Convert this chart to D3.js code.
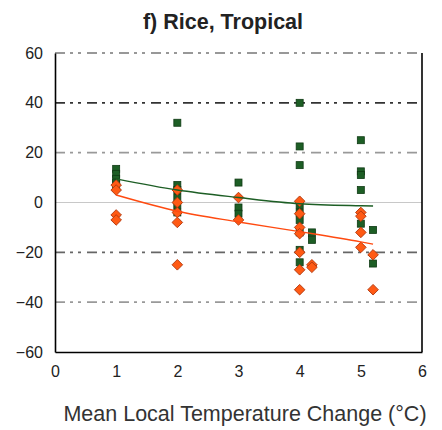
<!DOCTYPE html>
<html>
<head>
<meta charset="utf-8">
<script src="https://cdn.jsdelivr.net/npm/d3@7"></script>
<style>
html,body{margin:0;padding:0;background:#fff;}
svg{display:block;font-family:"Liberation Sans",Arial,sans-serif;}
</style>
</head>
<body>
<svg id="chart" width="442" height="430"></svg>
<script>
const title = "f) Rice, Tropical";
const xTitle = "Mean Local Temperature Change (°C)";
const xTicks = [0, 1, 2, 3, 4, 5, 6];
const yTicks = [-60, -40, -20, 0, 20, 40, 60];

// Green squares
const greenX = [1,1,1,1,1, 2,2,2,2,2,2, 3,3,3, 4,4,4,4,4,4,4,4,4, 4.2,4.2, 5,5,5,5,5, 5.2,5.2];
const greenY = [13.5,11.5,9.5,8,6, 32,7,5,2,-1,-4, 8,-2,-4.5, 40,22.5,15,-1,-4,-7,-12,-19,-24, -12,-15, 25,12.5,11,5,-8.5, -11,-24.5];
// Orange diamonds
const orangeX = [1,1,1,1, 2,2,2,2,2, 3,3, 4,4,4,4,4,4,4, 4.2,4.2, 5,5,5,5, 5.2,5.2];
const orangeY = [7,5,-5,-7, 5,0,-4,-8,-25, 2,-7, 0.5,-4.5,-10,-12.5,-20,-27,-35, -25,-26, -4,-5.5,-12,-18, -21,-35];
// Trend lines
const greenFitX = [1, 2, 3, 4, 5, 5.2];
const greenFitY = [9.5, 5, 2, -0.5, -1.3, -1.4];
const orangeFitX = [1, 2, 3, 4, 5, 5.2];
const orangeFitY = [3, -3.5, -7.8, -11.7, -15.8, -16.7];

const svg = d3.select("#chart");
const x = d3.scaleLinear().domain([0, 6]).range([55, 422]);
const y = d3.scaleLinear().domain([-60, 60]).range([352, 53]);

// gridlines
const gridColor = {"60":"#777","40":"#333","20":"#999","-20":"#666","-40":"#999"};
svg.append("g").selectAll("line").data(yTicks.filter(d => d !== 0 && d !== -60)).join("line")
  .attr("x1", x(0)).attr("x2", x(6))
  .attr("y1", d => y(d)).attr("y2", d => y(d))
  .attr("stroke", d => gridColor[d]).attr("stroke-width", 1.6)
  .attr("stroke-dasharray", "10,5,3,5,3,6");

// zero line
svg.append("line").attr("x1", x(0)).attr("x2", x(6)).attr("y1", y(0)).attr("y2", y(0))
  .attr("stroke", "#c8c8c8").attr("stroke-width", 1.2);

// axes
const yAxis = d3.axisLeft(y).tickValues(yTicks).tickSize(0).tickPadding(12).tickFormat(d3.format("d"));
const gy = svg.append("g").attr("transform", `translate(${x(0)},0)`).call(yAxis);
gy.select(".domain").attr("stroke", "#000").attr("stroke-width", 1.6);
gy.selectAll("text").attr("font-size", 16).attr("fill", "#222").attr("font-family", "Liberation Sans, Arial, sans-serif");

const xAxis = d3.axisBottom(x).tickValues(xTicks).tickSize(0).tickPadding(14).tickFormat(d3.format("d"));
const gx = svg.append("g").attr("transform", `translate(0,${y(-60)})`).call(xAxis);
gx.select(".domain").attr("stroke", "#000").attr("stroke-width", 1.6);
gx.selectAll("text").attr("font-size", 16).attr("fill", "#222").attr("font-family", "Liberation Sans, Arial, sans-serif");

// right border
svg.append("line").attr("x1", x(6)).attr("x2", x(6)).attr("y1", y(60)).attr("y2", y(-60))
  .attr("stroke", "#000").attr("stroke-width", 1.6);

// green squares
const gData = greenX.map((d, i) => ({x: d, y: greenY[i]}));
svg.append("g").selectAll("rect").data(gData).join("rect")
  .attr("x", d => x(d.x) - 3.5).attr("y", d => y(d.y) - 3.5)
  .attr("width", 7).attr("height", 7)
  .attr("fill", "#1d5e25").attr("stroke", "#0f3a14").attr("stroke-width", 0.8);

// orange diamonds
const oData = orangeX.map((d, i) => ({x: d, y: orangeY[i]}));
const diamond = d3.symbol().type(d3.symbolSquare).size(56);
svg.append("g").selectAll("path").data(oData).join("path")
  .attr("d", diamond)
  .attr("transform", d => `translate(${x(d.x)},${y(d.y)}) rotate(45)`)
  .attr("fill", "#ff5a14").attr("stroke", "#b23a10").attr("stroke-width", 0.9);

// trend lines
const line = d3.line().x(d => x(d[0])).y(d => y(d[1])).curve(d3.curveMonotoneX);
svg.append("path").datum(greenFitX.map((d, i) => [d, greenFitY[i]]))
  .attr("d", line).attr("fill", "none").attr("stroke", "#1d5e25").attr("stroke-width", 1.4);
svg.append("path").datum(orangeFitX.map((d, i) => [d, orangeFitY[i]]))
  .attr("d", line).attr("fill", "none").attr("stroke", "#ff4a10").attr("stroke-width", 1.4);

// titles
svg.append("text").attr("x", 223).attr("y", 29).attr("text-anchor", "middle")
  .attr("font-size", 21.5).attr("font-weight", "bold").attr("fill", "#222").text(title);
svg.append("text").attr("x", 245).attr("y", 421).attr("text-anchor", "middle")
  .attr("font-size", 21.5).attr("fill", "#333").text(xTitle);
</script>
</body>
</html>
